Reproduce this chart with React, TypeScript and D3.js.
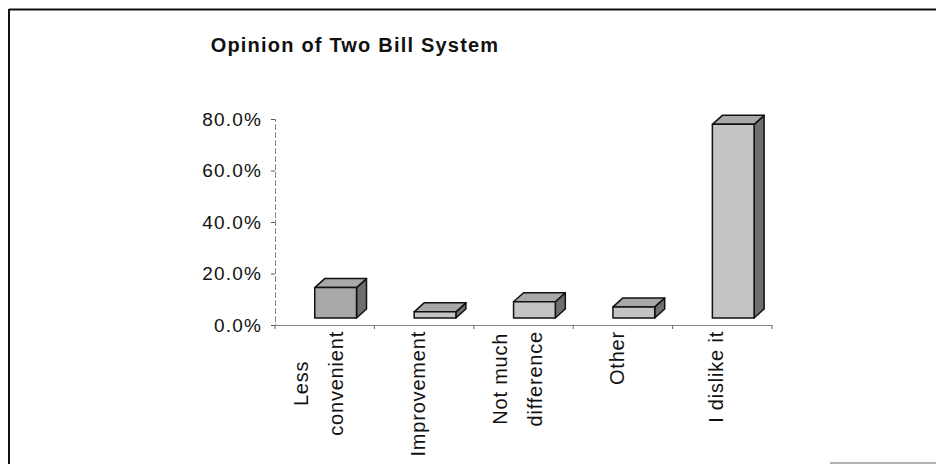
import React, { useRef, useEffect } from 'react';
import * as d3 from 'd3';

// chart data
const categories = ['Less convenient', 'Improvement', 'Not much difference', 'Other', 'I dislike it'];
const labelLines = [['Less', 'convenient'], ['Improvement'], ['Not much', 'difference'], ['Other'], ['I dislike it']];
const percents = [11.8, 2.4, 6.3, 4.3, 75.2];
const yTicks = [0, 20, 40, 60, 80];

const FONT = '"Liberation Sans", Arial, Helvetica, sans-serif';

const App = () => {
    const svgRef = useRef<SVGSVGElement | null>(null);

    useEffect(() => {
        const svg = d3.select(svgRef.current);
        svg.selectAll('*').remove(); // Clear previous drawings

        const width = 936;
        const height = 464;

        svg.append('rect').attr('width', width).attr('height', height).attr('fill', '#fff');

        // outer frame (scan only shows top + left edges)
        svg.append('line').attr('x1', 9).attr('x2', width).attr('y1', 9.5).attr('y2', 9.5)
            .attr('stroke', '#111').attr('stroke-width', 2);
        svg.append('line').attr('x1', 9).attr('x2', 9).attr('y1', 9).attr('y2', height)
            .attr('stroke', '#111').attr('stroke-width', 2);
        svg.append('line').attr('x1', 830).attr('x2', width).attr('y1', 463).attr('y2', 463)
            .attr('stroke', '#999').attr('stroke-width', 1.5);

        // Title
        svg.append('text')
            .attr('x', 355)
            .attr('y', 52)
            .attr('text-anchor', 'middle')
            .attr('font-family', FONT)
            .attr('font-weight', 'bold')
            .attr('font-size', 20)
            .attr('letter-spacing', 1.2)
            .attr('fill', '#111')
            .text('Opinion of Two Bill System');

        // Scales
        const x = d3.scaleBand()
            .domain(categories)
            .range([275, 772])
            .padding(0);

        const y = d3.scaleLinear()
            .domain([0, 80])
            .range([325, 119]);

        // y axis
        const yAxis = svg.append('g')
            .attr('transform', 'translate(275,0)')
            .call(d3.axisLeft(y).tickValues(yTicks).tickSize(4).tickPadding(9).tickFormat(d => `${(+d).toFixed(1)}%`));
        yAxis.select('.domain').attr('stroke', '#888').attr('stroke-width', 1).attr('stroke-dasharray', '6,2');
        yAxis.selectAll('.tick line').attr('stroke', '#555');
        yAxis.selectAll('text')
            .attr('font-family', FONT)
            .attr('font-size', 19)
            .attr('letter-spacing', 1.2)
            .attr('fill', '#111');

        // x axis
        const xAxis = svg.append('g')
            .attr('transform', `translate(0,${y(0)})`)
            .call(d3.axisBottom(x).tickSize(0).tickFormat(() => ''));
        xAxis.select('.domain').attr('stroke', '#888').attr('stroke-width', 1.2);
        // tick marks between categories
        const bounds = categories.map(c => x(c) as number).concat([x.range()[1]]);
        svg.append('g')
            .selectAll('line')
            .data(bounds)
            .enter()
            .append('line')
            .attr('x1', d => d)
            .attr('x2', d => d)
            .attr('y1', y(0))
            .attr('y2', y(0) + 4)
            .attr('stroke', '#666');

        // 3D columns
        const bw = x.bandwidth();
        const depthX = 10;
        const depthY = 9;
        const floor = 7; // bars sit a little behind the axis edge
        const bars = svg.append('g').attr('stroke', '#111').attr('stroke-width', 1.5).attr('stroke-linejoin', 'round');

        categories.forEach((c, i) => {
            const fx = (x(c) as number) + bw * 0.4;
            const fw = bw * 0.42;
            const fb = y(0) - floor;
            const ft = y(percents[i]) - floor;
            // side
            bars.append('path')
                .attr('d', `M${fx + fw},${ft} L${fx + fw + depthX},${ft - depthY} L${fx + fw + depthX},${fb - depthY} L${fx + fw},${fb} Z`)
                .attr('fill', '#6e6e6e');
            // top
            bars.append('path')
                .attr('d', `M${fx},${ft} L${fx + depthX},${ft - depthY} L${fx + fw + depthX},${ft - depthY} L${fx + fw},${ft} Z`)
                .attr('fill', '#a8a8a8');
            // front
            bars.append('rect')
                .attr('x', fx)
                .attr('y', ft)
                .attr('width', fw)
                .attr('height', fb - ft)
                .attr('fill', i === 0 ? '#a9a9a9' : '#c4c4c4');
        });

        // category labels, rotated, block top-aligned under the axis
        const labelTop = 331;
        const lineGap = 35;
        categories.forEach((c, i) => {
            const lines = labelLines[i];
            const g = svg.append('g');
            const texts = lines.map((ln) => g.append('text')
                .attr('font-family', FONT)
                .attr('font-size', 20)
                .attr('letter-spacing', 0.8)
                .attr('fill', '#111')
                .attr('text-anchor', 'middle')
                .attr('dominant-baseline', 'central')
                .text(ln));
            const maxLen = d3.max(texts, t => (t.node() as SVGTextElement).getComputedTextLength()) || 0;
            const cx = (x(c) as number) + bw / 2 - 6;
            const cy = labelTop + maxLen / 2;
            texts.forEach((t, j) => {
                const lx = cx + (j - (lines.length - 1) / 2) * lineGap;
                t.attr('transform', `translate(${lx},${cy}) rotate(-90)`);
            });
        });
    }, []);

    return (
        <svg ref={svgRef} width={936} height={464} style={{ position: 'absolute', left: 0, top: 0 }} />
    );
};

export default App;
